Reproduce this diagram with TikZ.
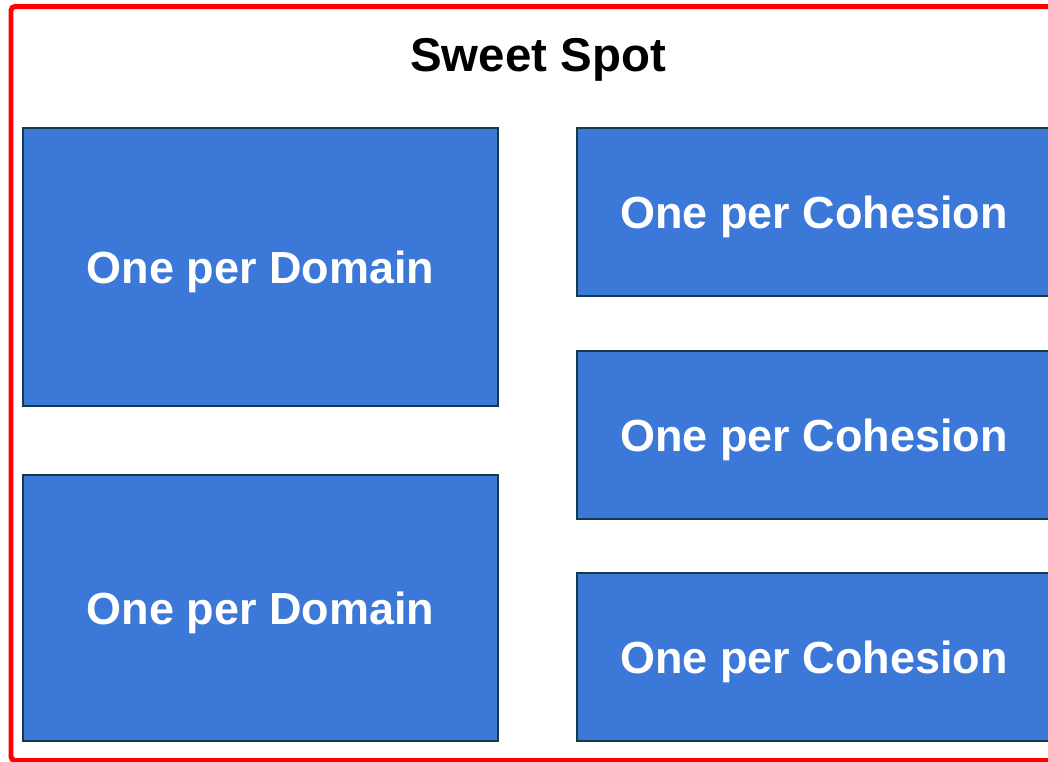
\documentclass[tikz,border=0pt]{standalone}
\usepackage{fontspec}
\setmainfont{Liberation Sans}
\definecolor{spotred}{RGB}{255,0,0}
\definecolor{boxblue}{RGB}{60,120,216}
\definecolor{boxedge}{RGB}{22,58,72}
\begin{document}
\begin{tikzpicture}[x=0.02cm,y=-0.02cm,
  block/.style={draw=boxedge,fill=boxblue,line width=0.04cm,text=white,
    font=\fontsize{25.6pt}{30pt}\selectfont\bfseries,inner sep=0pt,text depth=0pt},
  dombox/.style={block,minimum width=9.5cm,minimum height=#1},
  cohbox/.style={block,minimum width=9.48cm,minimum height=3.36cm}]
\useasboundingbox (0,0) rectangle (1048,761);
\draw[spotred,line width=0.1cm,rounded corners=0.08cm] (11,6.5) rectangle (1062,760.5);
\node[text depth=0pt] (title) at (538,55) {\fontsize{27pt}{32pt}\selectfont\bfseries Sweet Spot};
\node[dombox=5.56cm] (dom1) at (260.5,267) {One per Domain};
\node[dombox=5.32cm] (dom2) at (260.5,608) {One per Domain};
\node[cohbox] (coh1) at (814,212) {One per Cohesion};
\node[cohbox] (coh2) at (814,435) {One per Cohesion};
\node[cohbox] (coh3) at (814,657) {One per Cohesion};
\end{tikzpicture}
\end{document}
